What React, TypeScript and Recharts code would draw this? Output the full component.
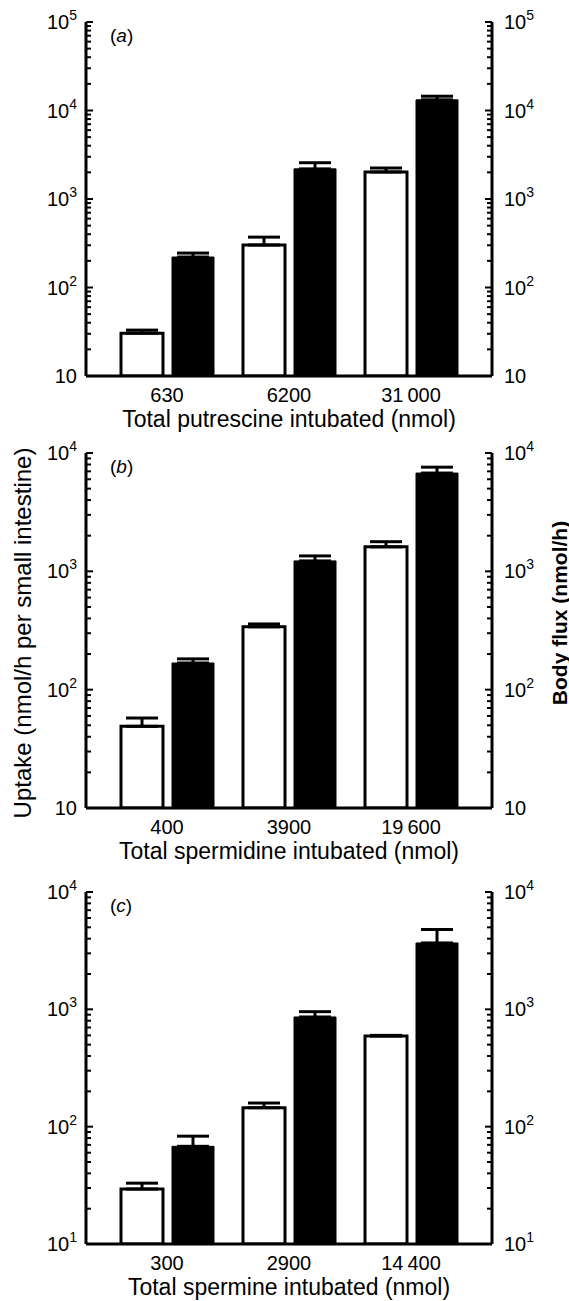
import { Bar, BarChart, ErrorBar, Label, XAxis, YAxis } from 'recharts'

// values, error = cap minus bar top
const putrescineDoses = ['630', '6200', '31\u2009000']
const putrescineUptake = [30.5, 302, 2020]
const putrescineUptakeErr = [2.5, 69, 220]
const putrescineFlux = [221, 2190, 13200]
const putrescineFluxErr = [24, 380, 1300]

const spermidineDoses = ['400', '3900', '19\u2009600']
const spermidineUptake = [49, 340, 1610]
const spermidineUptakeErr = [8.6, 19, 170]
const spermidineFlux = [168, 1225, 6770]
const spermidineFluxErr = [14, 125, 820]

const spermineDoses = ['300', '2900', '14\u2009400']
const spermineUptake = [29.4, 145, 592]
const spermineUptakeErr = [3.6, 14, 8]
const spermineFlux = [68, 861, 3680]
const spermineFluxErr = [15, 94, 1110]

const FONT = '"Liberation Sans", Arial, sans-serif'

const logTicks = (maxExp: number) => {
  const out: number[] = []
  for (let e = 1; e < maxExp; e++) {
    for (let m = 1; m <= 9; m++) out.push(m * Math.pow(10, e))
  }
  out.push(Math.pow(10, maxExp))
  return out
}

const makeRows = (doses: string[], uptake: number[], uptakeErr: number[], flux: number[], fluxErr: number[]) =>
  doses.map((dose, i) => ({
    dose,
    uptake: uptake[i],
    uptakeErr: [0, uptakeErr[i]],
    flux: flux[i],
    fluxErr: [0, fluxErr[i]],
  }))

const makeTick = (side: 'left' | 'right', supBottom: boolean) => (props: any) => {
  const { x, y, payload } = props
  const v = payload.value as number
  const exp = Math.log10(v)
  const major = Math.abs(exp - Math.round(exp)) < 1e-9
  const dir = side === 'left' ? 1 : -1
  const len = major ? 7 : 5
  const showSup = Math.round(exp) !== 1 || supBottom
  return (
    <g>
      <line x1={x} x2={x + dir * len} y1={y} y2={y} stroke="#000" strokeWidth={2} />
      {major && (
        <text
          x={side === 'left' ? x - 9 : x + 12}
          y={y + 7}
          textAnchor={side === 'left' ? 'end' : 'start'}
          fontSize={20}
          fontFamily={FONT}
          fill="#000"
        >
          10
          {showSup && (
            <tspan dy={-9} fontSize={14}>
              {Math.round(exp)}
            </tspan>
          )}
        </text>
      )}
    </g>
  )
}

interface PanelProps {
  rows: ReturnType<typeof makeRows>
  top: number
  plotH: number
  maxExp: number
  supBottom: boolean
  letter: string
  title: string
}

const Panel = ({ rows, top, plotH, maxExp, supBottom, letter, title }: PanelProps) => {
  const ticks = logTicks(maxExp)
  const domain = [10, Math.pow(10, maxExp)]
  const axisLine = { stroke: '#000', strokeWidth: 3 }
  return (
    <div style={{ position: 'absolute', left: 0, top: top - 22 }}>
      <BarChart
        width={569}
        height={plotH + 22 + 70}
        data={rows}
        margin={{ top: 22, right: 0, bottom: 0, left: 0 }}
        barSize={42}
        barGap={9}
      >
        <XAxis
          dataKey="dose"
          padding={{ left: 20, right: 20 }}
          tickLine={false}
          tickSize={0}
          axisLine={axisLine}
          tickMargin={12}
          height={70}
          interval={0}
          tick={{ fill: '#000', fontSize: 20, fontFamily: FONT }}
        >
          <Label
            value={title}
            position="insideBottom"
            offset={19}
            fill="#000"
            fontSize={23}
            fontFamily={FONT}
          />
        </XAxis>
        <YAxis
          yAxisId="left"
          scale="log"
          domain={domain}
          ticks={ticks}
          interval={0}
          allowDataOverflow
          width={86}
          axisLine={axisLine}
          tickLine={false}
          tickSize={0}
          tickMargin={0}
          tick={makeTick('left', supBottom)}
        />
        <YAxis
          yAxisId="right"
          orientation="right"
          scale="log"
          domain={domain}
          ticks={ticks}
          interval={0}
          allowDataOverflow
          width={77}
          axisLine={axisLine}
          tickLine={false}
          tickSize={0}
          tickMargin={0}
          tick={makeTick('right', supBottom)}
        />
        <Bar yAxisId="left" dataKey="uptake" fill="#fff" stroke="#000" strokeWidth={3} isAnimationActive={false}>
          <ErrorBar dataKey="uptakeErr" width={16} stroke="#000" strokeWidth={3} isAnimationActive={false} />
        </Bar>
        <Bar yAxisId="right" dataKey="flux" fill="#000" stroke="#000" strokeWidth={1} isAnimationActive={false}>
          <ErrorBar dataKey="fluxErr" width={16} stroke="#000" strokeWidth={3} isAnimationActive={false} />
        </Bar>
      </BarChart>
      <div
        style={{
          position: 'absolute',
          left: 110,
          top: 22 + 4,
          fontFamily: FONT,
          fontSize: 19,
          lineHeight: '20px',
          color: '#000',
        }}
      >
        (<i>{letter}</i>)
      </div>
    </div>
  )
}

const App = () => {
  const putrescine = makeRows(putrescineDoses, putrescineUptake, putrescineUptakeErr, putrescineFlux, putrescineFluxErr)
  const spermidine = makeRows(spermidineDoses, spermidineUptake, spermidineUptakeErr, spermidineFlux, spermidineFluxErr)
  const spermine = makeRows(spermineDoses, spermineUptake, spermineUptakeErr, spermineFlux, spermineFluxErr)

  return (
    <div style={{ position: 'absolute', left: 0, top: 0, width: 569, height: 1301, background: '#fff' }}>
      <Panel rows={putrescine} top={22} plotH={354} maxExp={5} supBottom={false} letter="a" title="Total putrescine intubated (nmol)" />
      <Panel rows={spermidine} top={453} plotH={355} maxExp={4} supBottom={false} letter="b" title="Total spermidine intubated (nmol)" />
      <Panel rows={spermine} top={892} plotH={352} maxExp={4} supBottom={true} letter="c" title="Total spermine intubated (nmol)" />
      <svg width={569} height={1301} style={{ position: 'absolute', left: 0, top: 0, pointerEvents: 'none' }}>
        <text
          x={22}
          y={633}
          transform="rotate(-90 22 633)"
          textAnchor="middle"
          dominantBaseline="central"
          fontSize={24}
          fontFamily={FONT}
          fill="#000"
        >
          Uptake (nmol/h per small intestine)
        </text>
        <text
          x={559}
          y={613}
          transform="rotate(-90 559 613)"
          textAnchor="middle"
          dominantBaseline="central"
          fontSize={21}
          fontWeight="bold"
          fontFamily={FONT}
          fill="#000"
        >
          Body flux (nmol/h)
        </text>
      </svg>
    </div>
  )
}

export default App
